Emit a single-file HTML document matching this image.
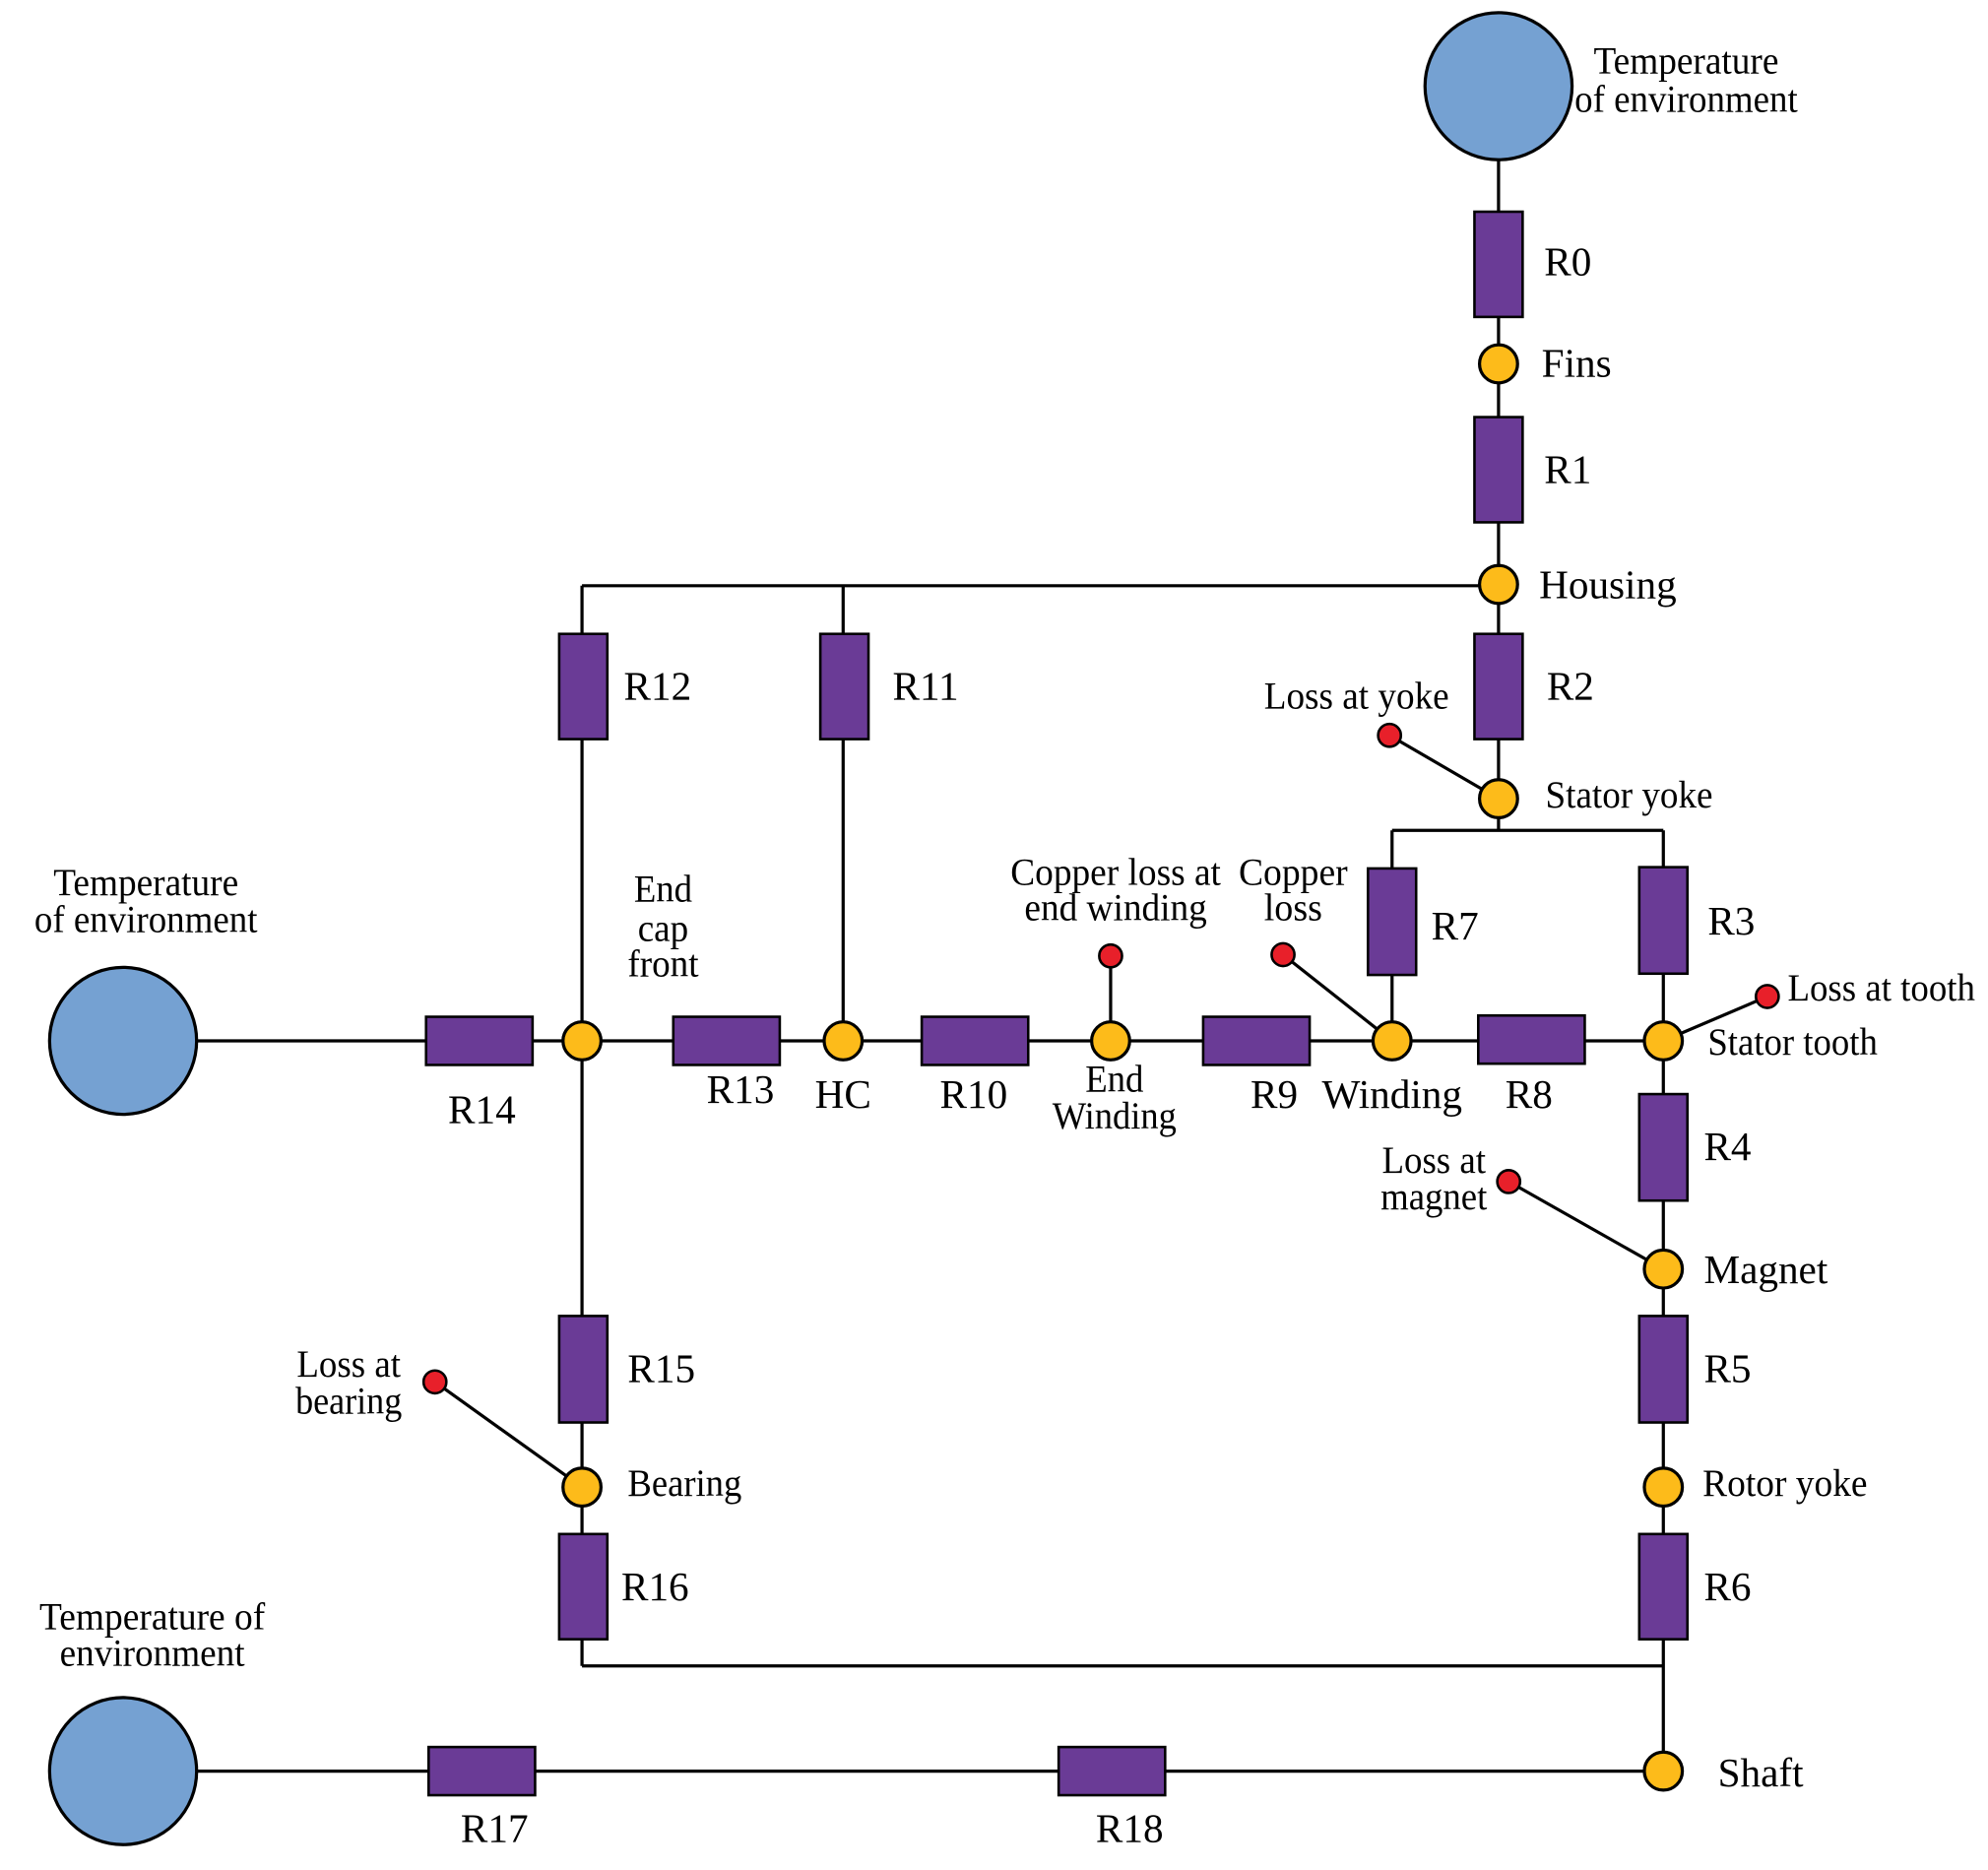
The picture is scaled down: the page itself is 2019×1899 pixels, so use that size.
<!DOCTYPE html>
<html><head><meta charset="utf-8"><style>
html,body{margin:0;padding:0;background:#fff;}
svg{display:block;}
text{font-family:"Liberation Serif",serif;fill:#000;}
.r{font-size:32px;}
.l{font-size:30px;}
</style></head><body>
<svg width="2019" height="1899" viewBox="0 0 1568 1475" xmlns="http://www.w3.org/2000/svg">
<g stroke="#000" stroke-width="2.5" fill="none">
<line x1="1182" y1="126" x2="1182" y2="655"/>
<line x1="459" y1="462" x2="1182" y2="462"/>
<line x1="459" y1="462" x2="459" y2="1314"/>
<line x1="665" y1="462" x2="665" y2="821"/>
<line x1="1098" y1="655" x2="1312" y2="655"/>
<line x1="1098" y1="655" x2="1098" y2="821"/>
<line x1="1312" y1="655" x2="1312" y2="1397"/>
<line x1="155" y1="821" x2="1312" y2="821"/>
<line x1="459" y1="1314" x2="1312" y2="1314"/>
<line x1="155" y1="1397" x2="1312" y2="1397"/>
<line x1="1096" y1="580" x2="1182" y2="630"/>
<line x1="876" y1="754" x2="876" y2="821"/>
<line x1="1012" y1="753" x2="1098" y2="821"/>
<line x1="1394" y1="786" x2="1312" y2="821"/>
<line x1="1190" y1="932" x2="1312" y2="1001"/>
<line x1="343" y1="1090" x2="459" y2="1173"/>
</g>
<g fill="#75A1D2" stroke="#000" stroke-width="2.5">
<circle cx="1182" cy="68" r="58"/>
<circle cx="97" cy="821" r="58"/>
<circle cx="97" cy="1397" r="58"/>
</g>
<g fill="#6A3B96" stroke="#000" stroke-width="2">
<rect x="1163" y="167" width="38" height="83"/>
<rect x="1163" y="329" width="38" height="83"/>
<rect x="1163" y="500" width="38" height="83"/>
<rect x="441" y="500" width="38" height="83"/>
<rect x="647" y="500" width="38" height="83"/>
<rect x="1079" y="685" width="38" height="84"/>
<rect x="1293" y="684" width="38" height="84"/>
<rect x="336" y="802" width="84" height="38"/>
<rect x="531" y="802" width="84" height="38"/>
<rect x="727" y="802" width="84" height="38"/>
<rect x="949" y="802" width="84" height="38"/>
<rect x="1166" y="801" width="84" height="38"/>
<rect x="1293" y="863" width="38" height="84"/>
<rect x="1293" y="1038" width="38" height="84"/>
<rect x="1293" y="1210" width="38" height="83"/>
<rect x="441" y="1038" width="38" height="84"/>
<rect x="441" y="1210" width="38" height="83"/>
<rect x="338" y="1378" width="84" height="38"/>
<rect x="835" y="1378" width="84" height="38"/>
</g>
<g fill="#FDBB1A" stroke="#000" stroke-width="2.5">
<circle cx="1182" cy="287" r="15"/>
<circle cx="1182" cy="461" r="15"/>
<circle cx="1182" cy="630" r="15"/>
<circle cx="459" cy="821" r="15"/>
<circle cx="665" cy="821" r="15"/>
<circle cx="876" cy="821" r="15"/>
<circle cx="1098" cy="821" r="15"/>
<circle cx="1312" cy="821" r="15"/>
<circle cx="1312" cy="1001" r="15"/>
<circle cx="1312" cy="1173" r="15"/>
<circle cx="459" cy="1173" r="15"/>
<circle cx="1312" cy="1397" r="15"/>
</g>
<g fill="#E8202A" stroke="#000" stroke-width="2">
<circle cx="1096" cy="580" r="9"/>
<circle cx="876" cy="754" r="9"/>
<circle cx="1012" cy="753" r="9"/>
<circle cx="1394" cy="786" r="9"/>
<circle cx="1190" cy="932" r="9"/>
<circle cx="343" cy="1090" r="9"/>
</g>
<g class="r">
<text x="1218" y="217">R0</text>
<text x="1216" y="297">Fins</text>
<text x="1218" y="381">R1</text>
<text x="1214" y="472">Housing</text>
<text x="1220" y="552">R2</text>
<text x="492" y="552">R12</text>
<text x="704" y="552">R11</text>
<text x="1129" y="741">R7</text>
<text x="1347" y="737">R3</text>
<text x="380" y="886" text-anchor="middle">R14</text>
<text x="584" y="870" text-anchor="middle">R13</text>
<text x="665" y="874" text-anchor="middle">HC</text>
<text x="768" y="874" text-anchor="middle">R10</text>
<text x="1005" y="874" text-anchor="middle">R9</text>
<text x="1098" y="874" text-anchor="middle">Winding</text>
<text x="1206" y="874" text-anchor="middle">R8</text>
<text x="1344" y="915">R4</text>
<text x="1344" y="1012">Magnet</text>
<text x="1344" y="1090">R5</text>
<text x="495" y="1090">R15</text>
<text x="1344" y="1262">R6</text>
<text x="490" y="1262">R16</text>
<text x="1355" y="1409">Shaft</text>
<text x="390" y="1453" text-anchor="middle">R17</text>
<text x="891" y="1453" text-anchor="middle">R18</text>
</g>
<g class="l" text-anchor="middle">
<text x="1330" y="58" textLength="146" lengthAdjust="spacingAndGlyphs">Temperature</text>
<text x="1330" y="88" textLength="176" lengthAdjust="spacingAndGlyphs">of environment</text>
<text x="1070" y="559" textLength="146" lengthAdjust="spacingAndGlyphs">Loss at yoke</text>
<text x="1285" y="637" textLength="132" lengthAdjust="spacingAndGlyphs">Stator yoke</text>
<text x="880" y="698" textLength="166" lengthAdjust="spacingAndGlyphs">Copper loss at</text>
<text x="880" y="726" textLength="144" lengthAdjust="spacingAndGlyphs">end winding</text>
<text x="1020" y="698" textLength="86" lengthAdjust="spacingAndGlyphs">Copper</text>
<text x="1020" y="726" textLength="46" lengthAdjust="spacingAndGlyphs">loss</text>
<text x="523" y="711" textLength="46" lengthAdjust="spacingAndGlyphs">End</text>
<text x="523" y="742" textLength="40" lengthAdjust="spacingAndGlyphs">cap</text>
<text x="523" y="770" textLength="56" lengthAdjust="spacingAndGlyphs">front</text>
<text x="115" y="706" textLength="146" lengthAdjust="spacingAndGlyphs">Temperature</text>
<text x="115" y="735" textLength="176" lengthAdjust="spacingAndGlyphs">of environment</text>
<text x="1484" y="789" textLength="148" lengthAdjust="spacingAndGlyphs">Loss at tooth</text>
<text x="1414" y="832" textLength="134" lengthAdjust="spacingAndGlyphs">Stator tooth</text>
<text x="879" y="861" textLength="46" lengthAdjust="spacingAndGlyphs">End</text>
<text x="879" y="890" textLength="98" lengthAdjust="spacingAndGlyphs">Winding</text>
<text x="1131" y="925" textLength="82" lengthAdjust="spacingAndGlyphs">Loss at</text>
<text x="1131" y="954" textLength="84" lengthAdjust="spacingAndGlyphs">magnet</text>
<text x="275" y="1086" textLength="82" lengthAdjust="spacingAndGlyphs">Loss at</text>
<text x="275" y="1115" textLength="84" lengthAdjust="spacingAndGlyphs">bearing</text>
<text x="540" y="1180" textLength="90" lengthAdjust="spacingAndGlyphs">Bearing</text>
<text x="1408" y="1180" textLength="130" lengthAdjust="spacingAndGlyphs">Rotor yoke</text>
<text x="120" y="1285" textLength="178" lengthAdjust="spacingAndGlyphs">Temperature of</text>
<text x="120" y="1314" textLength="146" lengthAdjust="spacingAndGlyphs">environment</text>
</g>
</svg>
</body></html>
